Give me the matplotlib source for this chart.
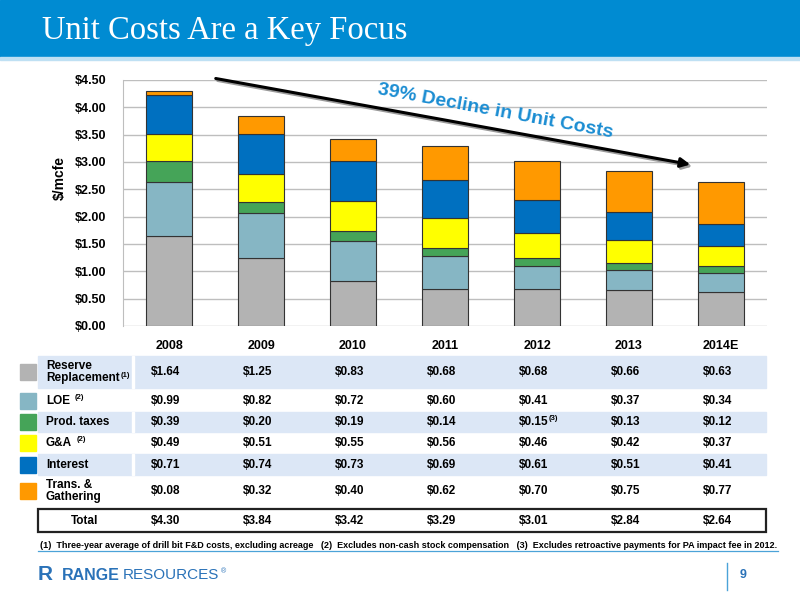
import matplotlib
matplotlib.use("Agg")
import matplotlib.pyplot as plt
import matplotlib.transforms as mtransforms
from matplotlib.patches import Rectangle, FancyArrowPatch
from matplotlib.text import Annotation

plt.rcParams["font.family"] = ["Liberation Sans", "DejaVu Sans"]

years = ["2008", "2009", "2010", "2011", "2012", "2013", "2014E"]
reserve = [1.64, 1.25, 0.83, 0.68, 0.68, 0.66, 0.63]
loe = [0.99, 0.82, 0.72, 0.60, 0.41, 0.37, 0.34]
prod_taxes = [0.39, 0.20, 0.19, 0.14, 0.15, 0.13, 0.12]
g_and_a = [0.49, 0.51, 0.55, 0.56, 0.46, 0.42, 0.37]
interest = [0.71, 0.74, 0.73, 0.69, 0.61, 0.51, 0.41]
trans = [0.08, 0.32, 0.40, 0.62, 0.70, 0.75, 0.77]
totals = [4.30, 3.84, 3.42, 3.29, 3.01, 2.84, 2.64]

series = [reserve, loe, prod_taxes, g_and_a, interest, trans]
colors = ["#B3B3B3", "#86B6C4", "#45A458", "#FFFF00", "#0070C0", "#FF9900"]
row_labels = ["Reserve\nReplacement", "LOE", "Prod. taxes", "G&A", "Interest", "Trans. &\nGathering"]
row_notes = ["(1)", "(2)", "", "(2)", "", ""]
yticks = [0.0, 0.5, 1.0, 1.5, 2.0, 2.5, 3.0, 3.5, 4.0, 4.5]

W, H = 800, 600
fig = plt.figure(figsize=(8, 6), dpi=100)


def fx(px):
    return px / W


def fy(py):
    return 1 - py / H


def sup(parent, note, xy=(1, 1), dx=1.5, **kw):
    # small superscript note attached to the right edge of another text
    opts = dict(fontsize=5.5, fontweight="bold", va="top", ha="left")
    opts.update(kw)
    a = Annotation(note, xy=xy, xycoords=parent, xytext=(dx, 0),
                   textcoords="offset points", annotation_clip=False, **opts)
    a.set_zorder(10)
    fig.add_artist(a)
    return a


# header band
fig.patches.append(Rectangle((0, fy(57)), 1, 57 / H, transform=fig.transFigure,
                             color="#008BD2", zorder=0))
fig.patches.append(Rectangle((0, fy(60)), 1, 3 / H, transform=fig.transFigure,
                             color="#BFE0F3", zorder=0))
fig.text(fx(42), fy(31), "Unit Costs Are a Key Focus", color="white",
         family=["Liberation Serif", "DejaVu Serif"], fontsize=23.5, va="center")

# chart
ax = fig.add_axes([fx(123), fy(326), fx(767) - fx(123), (326 - 80) / H])
ax.set_zorder(2)
ax.patch.set_alpha(0)
x = list(range(len(years)))
bottom = [0.0] * len(years)
for vals, c in zip(series, colors):
    ax.bar(x, vals, width=0.5, bottom=bottom, color=c, edgecolor="#333333",
           linewidth=0.8, zorder=3)
    bottom = [b + v for b, v in zip(bottom, vals)]

ax.set_xlim(-0.5, 6.5)
ax.set_ylim(0, 4.5)
ax.set_yticks(yticks)
ax.set_yticklabels([f"${t:.2f}" for t in yticks], fontsize=9, fontweight="bold")
ax.set_xticks(x)
ax.set_xticklabels(years, fontsize=9, fontweight="bold")
ax.tick_params(length=0, pad=12)
ax.tick_params(axis="x", pad=10)
ax.grid(axis="y", color="#BEBEBE", linewidth=1.0, zorder=0)
for s in ["top", "right", "bottom"]:
    ax.spines[s].set_visible(False)
ax.spines["left"].set_color("#BEBEBE")
ax.set_ylabel("$/mcfe", fontsize=10, fontweight="bold")
ax.yaxis.set_label_coords(-0.087, 0.60)

# trend arrow and callout
for dx, dy, col in [(2, -2, "#9A9A9A"), (0, 0, "black")]:
    fig.add_artist(FancyArrowPatch(
        (fx(213 + dx), fy(78 - dy)), (fx(693 + dx), fy(165 - dy)),
        transform=fig.transFigure, arrowstyle="-|>", mutation_scale=14,
        linewidth=2.2, color=col, zorder=5))
fig.text(fx(495), fy(111), "39% Decline in Unit Costs", color="#1B8DD2",
         fontsize=14, fontweight="bold", rotation=-10.5, ha="center",
         va="center", rotation_mode="anchor", zorder=6)

# table
col_tf = mtransforms.blended_transform_factory(ax.transData, fig.transFigure)
row_y = [372, 401, 422, 443, 465, 491]
bands = [(356, 388), (412, 432), (454, 475)]
for top, bot in bands:
    fig.patches.append(Rectangle((fx(38), fy(bot)), fx(766) - fx(38), (bot - top) / H,
                                 transform=fig.transFigure, color="#DCE7F6", zorder=0))
    fig.patches.append(Rectangle((fx(132), fy(bot)), 2 / W, (bot - top) / H,
                                 transform=fig.transFigure, color="white", zorder=1))

for i, (lab, note, vals, c, yy) in enumerate(zip(row_labels, row_notes, series, colors, row_y)):
    fig.patches.append(Rectangle((fx(20), fy(yy + 8)), 16 / W, 16 / H,
                                 transform=fig.transFigure, color=c, zorder=2))
    t = fig.text(fx(46), fy(yy), lab, fontsize=8.5, fontweight="bold",
                 va="center", linespacing=1.05, zorder=5)
    if note:
        if "\n" in lab:
            sup(t, note, xy=(1, 0.5), dx=0.5)
        else:
            sup(t, note, xy=(1, 1.05), dx=3)
    for j, v in enumerate(vals):
        vt = fig.text(j - 0.04, fy(yy), f"${v:.2f}", transform=col_tf, fontsize=8.5,
                      fontweight="bold", ha="center", va="center", zorder=5)
        if i == 2 and years[j] == "2012":
            sup(vt, "(3)", xy=(1, 1.05), dx=0.3)

# total row
fig.patches.append(Rectangle((fx(38), fy(532)), fx(766) - fx(38), 23 / H,
                             transform=fig.transFigure, fill=False,
                             edgecolor="#222222", linewidth=1.6, zorder=3))
fig.text(fx(85), fy(521), "Total", fontsize=8.5, fontweight="bold", ha="center", va="center")
for j, v in enumerate(totals):
    fig.text(j - 0.04, fy(521), f"${v:.2f}", transform=col_tf, fontsize=8.5,
             fontweight="bold", ha="center", va="center")

# footnote
fig.text(fx(40), fy(545), "(1)  Three-year average of drill bit F&D costs, excluding acreage   "
         "(2)  Excludes non-cash stock compensation   (3)  Excludes retroactive payments "
         "for PA impact fee in 2012.", fontsize=6.5, fontweight="bold", va="center")
fig.add_artist(plt.Line2D([fx(38), fx(778)], [fy(551), fy(551)], color="#4BA3D8",
                          linewidth=0.9, transform=fig.transFigure))

# footer
fig.text(fx(38), fy(575), "R", color="#2A72B8", fontsize=15, fontweight="bold", va="center")
fig.text(fx(62), fy(575), "RANGE", color="#2A72B8", fontsize=11.5, fontweight="bold", va="center")
rt = fig.text(fx(123), fy(575), "RESOURCES", color="#2A72B8", fontsize=11, va="center")
sup(rt, "®", xy=(1, 1), dx=1, fontweight="normal", color="#2A72B8", fontsize=5)
fig.add_artist(plt.Line2D([fx(727), fx(727)], [fy(563), fy(590)], color="#4BA3D8",
                          linewidth=1.0, transform=fig.transFigure))
fig.text(fx(740), fy(575), "9", color="#2A72B8", fontsize=9, fontweight="bold", va="center")

fig.savefig("out.png", dpi=100)
